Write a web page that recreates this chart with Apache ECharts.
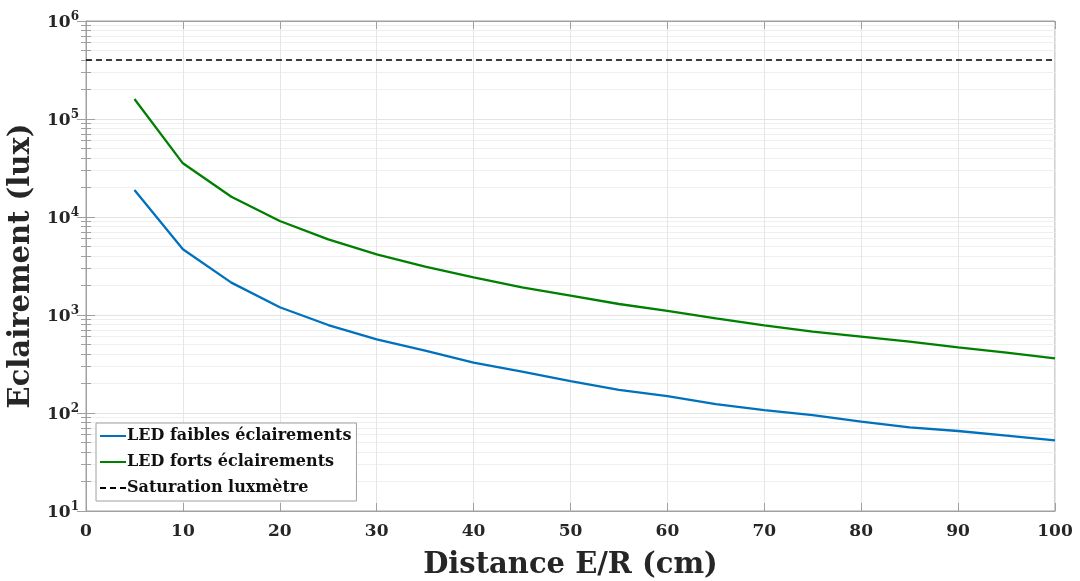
<!DOCTYPE html>
<html>
<head>
<meta charset="utf-8">
<script src="https://cdn.jsdelivr.net/npm/echarts@6/dist/echarts.min.js"></script>
<style>
html,body{margin:0;padding:0;background:#fff;}
#chart{width:1080px;height:581px;}
</style>
</head>
<body>
<div id="chart"></div>
<script>
const distances = [5,10,15,20,25,30,35,40,45,50,55,60,65,70,75,80,85,90,95,100];
const ledFaibles = [18900,4680,2140,1200,790,565,432,326,264,212,172,149,123,107,95,81.5,71.5,65.5,58.7,52.6];
const ledForts = [160000,35300,16100,9100,5920,4160,3110,2420,1915,1575,1295,1100,925,784,676,601,535,468,413,361];
const saturationX = [0,100];
const saturationLevel = 400000;
const seriesNames = ['LED faibles éclairements','LED forts éclairements','Saturation luxmètre'];

const FONT = 'DejaVu Serif';
const chart = echarts.init(document.getElementById('chart'), null, {renderer:'canvas'});

const pairs = (xs, ys) => xs.map((x,i)=>[x, ys[i]]);

const yLabel = {
  formatter: v => '{b|10}{s|' + Math.round(Math.log10(v)) + '}',
  rich: {
    b: {fontFamily: FONT, fontWeight:'bold', fontSize:17, color:'#262626', verticalAlign:'bottom', lineHeight:20},
    s: {fontFamily: FONT, fontWeight:'bold', fontSize:12, color:'#262626', verticalAlign:'top', padding:[0,0,10,0], lineHeight:14}
  },
  margin: 7
};

const option = {
  backgroundColor:'#fff',
  animation:false,
  grid:{left:86, right:25, top:21, bottom:70, show:true, borderColor:'#a0a0a0', borderWidth:1, outerBoundsMode:'none', containLabel:false},
  legend:{
    data: seriesNames,
    orient:'vertical', left:96, top:423,
    backgroundColor:'#fff', borderColor:'#a0a0a0', borderWidth:1, borderRadius:0,
    padding:[5,5,5,3], itemGap:10, itemWidth:26, itemHeight:14,
    itemStyle:{opacity:0},
    textStyle:{fontFamily:FONT, fontWeight:'bold', fontSize:16, color:'#111', padding:[0,0,0,-4]}
  },
  xAxis:[{
    type:'value', min:0, max:100, interval:10,
    name:'Distance E/R (cm)', nameLocation:'middle', nameGap:40,
    nameTextStyle:{fontFamily:FONT, fontWeight:'bold', fontSize:29, color:'#262626'},
    axisLine:{show:true, lineStyle:{color:'#a0a0a0'}},
    axisTick:{show:true, inside:true, length:8, lineStyle:{color:'#a0a0a0'}},
    axisLabel:{fontFamily:FONT, fontWeight:'bold', fontSize:17, color:'#262626', margin:12},
    splitLine:{show:true, lineStyle:{color:'#e6e6e6', width:1}}
  },{
    type:'value', min:0, max:100, interval:10, position:'top',
    axisLine:{show:true, lineStyle:{color:'#a0a0a0'}},
    axisTick:{show:true, inside:true, length:8, lineStyle:{color:'#a0a0a0'}},
    axisLabel:{show:false}, splitLine:{show:false}
  }],
  yAxis:[{
    type:'log', logBase:10, min:10, max:1000000,
    name:'Eclairement (lux)', nameLocation:'middle', nameGap:43,
    nameTextStyle:{fontFamily:FONT, fontWeight:'bold', fontSize:29, color:'#262626'},
    axisLine:{show:true, lineStyle:{color:'#a0a0a0'}},
    axisTick:{show:true, inside:true, length:9, lineStyle:{color:'#a0a0a0'}},
    minorTick:{show:true, splitNumber:9, length:5, lineStyle:{color:'#a0a0a0'}},
    minorSplitLine:{show:true, lineStyle:{color:'#efefef', width:1}},
    axisLabel:yLabel,
    splitLine:{show:true, lineStyle:{color:'#e3e3e3', width:1}}
  },{
    type:'log', logBase:10, min:10, max:1000000, position:'right',
    axisLine:{show:true, lineStyle:{color:'#a0a0a0'}},
    axisTick:{show:true, inside:true, length:9, lineStyle:{color:'#a0a0a0'}},
    minorTick:{show:true, splitNumber:9, length:5, lineStyle:{color:'#a0a0a0'}},
    axisLabel:{show:false}, splitLine:{show:false}
  }],
  series:[
    {name:seriesNames[0], type:'line', data:pairs(distances, ledFaibles), symbol:'none',
     lineStyle:{color:'#0072BD', width:2.3}, itemStyle:{color:'#0072BD'}, z:5},
    {name:seriesNames[1], type:'line', data:pairs(distances, ledForts), symbol:'none',
     lineStyle:{color:'#008000', width:2.3}, itemStyle:{color:'#008000'}, z:5},
    {name:seriesNames[2], type:'line', data:saturationX.map(x=>[x, saturationLevel]), symbol:'none',
     lineStyle:{color:'#000', width:1.5, type:[6,4]}, itemStyle:{color:'#000'}, z:5}
  ]
};
chart.setOption(option);
</script>
</body>
</html>
